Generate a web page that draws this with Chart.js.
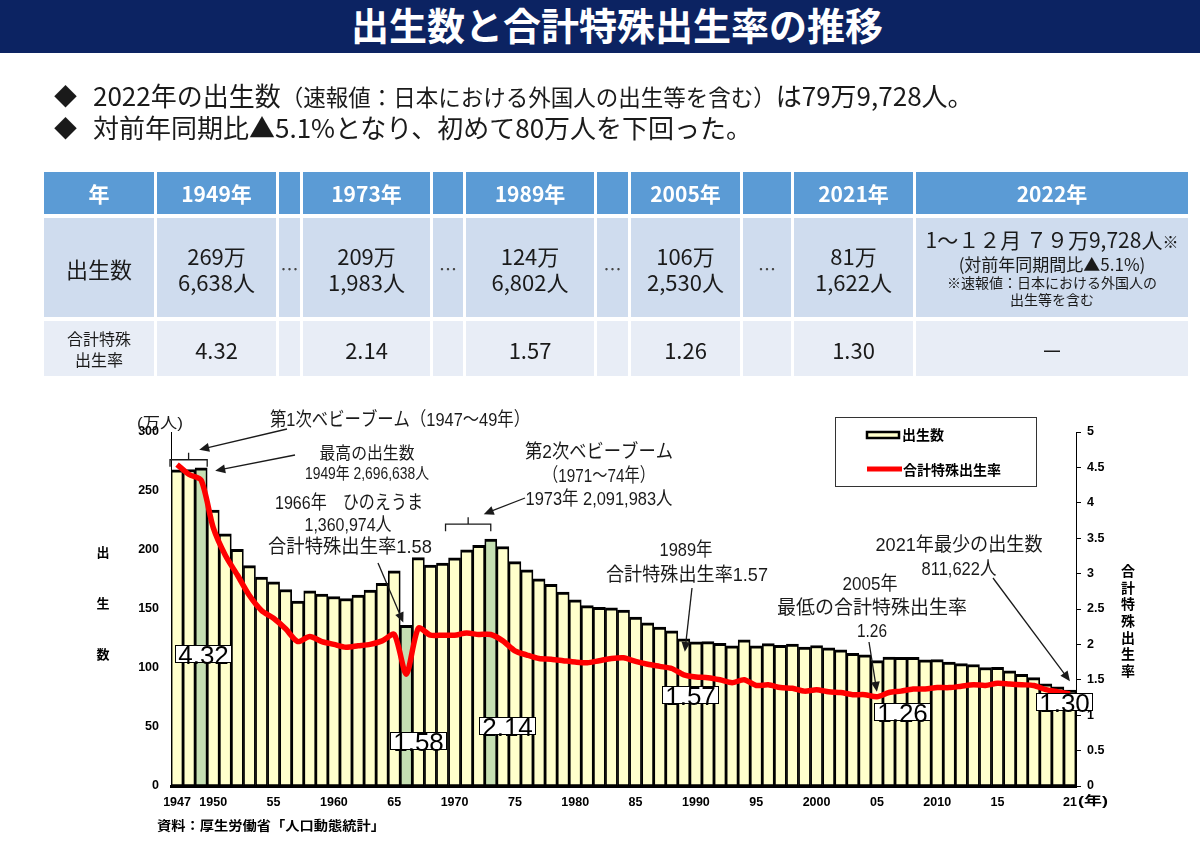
<!DOCTYPE html>
<html lang="ja">
<head>
<meta charset="utf-8">
<title>出生数と合計特殊出生率の推移</title>
<script src="https://cdn.jsdelivr.net/npm/chart.js@4.4.1/dist/chart.umd.min.js"></script>
<style>
html, body { margin:0; padding:0; background:#fff; }
body { width:1200px; height:847px; position:relative; overflow:hidden;
       font-family:'Noto Sans CJK JP','Noto Sans',sans-serif; color:#1a1a1a; }
#chart { position:absolute; left:0; top:0; }
.title { position:absolute; left:0; top:0; width:1200px; height:53px; background:#0c2362;
         color:#fff; font-weight:700; font-size:38px; line-height:48px; text-align:center;
         padding-left:34px; box-sizing:border-box; white-space:nowrap; }
.bullet { position:absolute; left:0; height:32px; font-size:26px; line-height:32px; white-space:nowrap; }
.bullet .dia { position:absolute; left:54px; top:0; font-size:23px; }
.bullet .txt { position:absolute; left:93px; top:0; }
.bullet .sm { font-size:22.5px; }
.tbl { position:absolute; left:44px; top:172px; display:grid;
       grid-template-columns:110px 119px 21px 127px 30px 128px 31px 109px 48px 119px 272px;
       grid-template-rows:42px 99px 55px; column-gap:3px; row-gap:4px; }
.tbl div { display:flex; align-items:center; justify-content:center; text-align:center; }
.tbl .h { background:#5b9bd5; color:#fff; font-weight:700; font-size:21px; }
.tbl .r2 { background:#cfdcee; font-size:22px; line-height:26px; }
.tbl .r3 { background:#e8edf6; font-size:22px; line-height:22px; }
.tbl .gap { color:#444; font-size:18px; }
.tbl .lab3 { font-size:16px; line-height:21px; }
.tbl .y22 { flex-direction:column; line-height:22px; }
.tbl .y22 .a { font-size:21px; line-height:24px; }
.tbl .y22 .b { font-size:17px; line-height:21px; }
.tbl .y22 .c { font-size:14px; line-height:17px; }
</style>
</head>
<body>
<canvas id="chart" width="1200" height="847"></canvas>
<div class="title">出生数と合計特殊出生率の推移</div>
<div class="bullet" style="top:79px"><span class="dia">◆</span><span class="txt">2022年の出生数<span class="sm">（速報値：日本における外国人の出生等を含む）</span>は79万9,728人。</span></div>
<div class="bullet" style="top:111px"><span class="dia">◆</span><span class="txt">対前年同期比▲5.1%となり、初めて80万人を下回った。</span></div>
<div class="tbl" id="tbl"></div>

<script>
// ---- data ----
const years = [1947,1948,1949,1950,1951,1952,1953,1954,1955,1956,1957,1958,1959,
  1960,1961,1962,1963,1964,1965,1966,1967,1968,1969,1970,1971,1972,1973,1974,1975,
  1976,1977,1978,1979,1980,1981,1982,1983,1984,1985,1986,1987,1988,1989,1990,1991,
  1992,1993,1994,1995,1996,1997,1998,1999,2000,2001,2002,2003,2004,2005,2006,2007,
  2008,2009,2010,2011,2012,2013,2014,2015,2016,2017,2018,2019,2020,2021];

// 出生数 (万人)
const births = [267.9,268.2,269.7,233.8,213.8,200.5,186.8,177.0,173.1,166.5,156.7,165.3,162.6,
  160.6,158.9,161.9,166.0,171.7,182.4,136.1,193.6,187.2,189.0,193.4,200.1,203.9,209.2,203.0,190.1,
  183.3,175.5,170.9,164.3,157.7,152.9,151.5,150.9,149.0,143.2,138.3,134.7,131.4,124.7,122.2,122.3,
  120.9,118.8,123.8,118.7,120.7,119.2,120.3,117.8,119.1,117.1,115.4,112.4,111.1,106.3,109.3,109.0,
  109.1,107.0,107.1,105.1,103.7,103.0,100.4,100.6,97.7,94.6,91.8,86.5,84.1,81.2];

// 合計特殊出生率
const tfr = [4.54,4.40,4.32,3.65,3.26,2.98,2.69,2.48,2.37,2.22,2.04,2.11,2.04,
  2.00,1.96,1.98,2.00,2.05,2.14,1.58,2.23,2.13,2.13,2.13,2.16,2.14,2.14,2.05,1.91,
  1.85,1.80,1.79,1.77,1.75,1.74,1.77,1.80,1.81,1.76,1.72,1.69,1.66,1.57,1.54,1.53,
  1.50,1.46,1.50,1.42,1.43,1.39,1.38,1.34,1.36,1.33,1.32,1.29,1.29,1.26,1.32,1.34,
  1.37,1.37,1.39,1.39,1.41,1.43,1.42,1.45,1.44,1.43,1.42,1.36,1.33,1.30];

const highlightYears = [1949, 1966, 1973];
const xTickYears = [1947,1950,1955,1960,1965,1970,1975,1980,1985,1990,1995,2000,2005,2010,2015,2021];
const xTickText  = ['1947','1950','55','1960','65','1970','75','1980','85','1990','95','2000','05','2010','15','21'];

// table
const tblYears  = ['1949年','1973年','1989年','2005年','2021年'];
const tblMan    = ['269万','209万','124万','106万','81万'];
const tblRest   = ['6,638人','1,983人','6,802人','2,530人','1,622人'];
const tblRates  = ['4.32','2.14','1.57','1.26','1.30'];

// ---- table ----
(function buildTable() {
  const t = document.getElementById('tbl');
  const add = (cls, html) => { const d = document.createElement('div'); d.className = cls; d.innerHTML = html; t.appendChild(d); };
  add('h', '年');
  tblYears.forEach((y, i) => { add('h', y); if (i < tblYears.length - 1) add('h', ''); });
  add('h', '2022年');
  add('r2', '出生数');
  tblYears.forEach((y, i) => { add('r2', tblMan[i] + '<br>' + tblRest[i]); if (i < tblYears.length - 1) add('r2 gap', '…'); });
  add('r2 y22', '<span class="a">1～１２月 ７９万9,728人<span style="font-size:16px">※</span></span><span class="b">(対前年同期間比▲5.1%)</span><span class="c">※速報値：日本における外国人の</span><span class="c">出生等を含む</span>');
  add('r3 lab3', '合計特殊<br>出生率');
  tblYears.forEach((y, i) => { add('r3', tblRates[i]); if (i < tblYears.length - 1) add('r3', ''); });
  add('r3', '－');
})();

// ---- chart ----
const FONT = "'Liberation Sans','Noto Sans CJK JP',sans-serif";
const YELLOW = '#ffffcc', GREEN = '#c5dfb2', INK = '#1a1a1a';
Chart.defaults.font.family = FONT;
Chart.defaults.color = '#000';

// helper: text squeezed/stretched to a given width
function fitText(ctx, text, cx, cy, size, w, weight) {
  ctx.save();
  ctx.font = (weight || 'normal') + ' ' + size + 'px ' + FONT;
  const m = ctx.measureText(text).width;
  ctx.translate(cx, cy);
  ctx.scale(w / m, 1);
  ctx.textAlign = 'center';
  ctx.textBaseline = 'middle';
  ctx.fillText(text, 0, 0);
  ctx.restore();
}

function arrow(ctx, x1, y1, x2, y2) {
  const a = Math.atan2(y2 - y1, x2 - x1), L = 10, W = 4.5;
  ctx.beginPath(); ctx.moveTo(x1, y1); ctx.lineTo(x2 - Math.cos(a) * L * 0.8, y2 - Math.sin(a) * L * 0.8); ctx.stroke();
  ctx.beginPath();
  ctx.moveTo(x2, y2);
  ctx.lineTo(x2 - L * Math.cos(a) + W * Math.sin(a), y2 - L * Math.sin(a) - W * Math.cos(a));
  ctx.lineTo(x2 - L * Math.cos(a) - W * Math.sin(a), y2 - L * Math.sin(a) + W * Math.cos(a));
  ctx.closePath(); ctx.fill();
}

const notes = [
  { t:'第1次ベビーブーム（1947～49年）', x:400, y:421, s:19, w:260 },
  { t:'最高の出生数', x:367, y:454, s:17, w:95 },
  { t:'1949年 2,696,638人', x:367, y:475, s:16, w:124 },
  { t:'1966年　ひのえうま', x:349, y:504, s:19, w:148 },
  { t:'1,360,974人', x:348, y:526, s:19, w:87 },
  { t:'合計特殊出生率1.58', x:350, y:548, s:19, w:164 },
  { t:'第2次ベビーブーム', x:599, y:453, s:19, w:148 },
  { t:'（1971～74年）', x:599, y:477, s:19, w:112 },
  { t:'1973年 2,091,983人', x:599, y:500, s:19, w:147 },
  { t:'1989年', x:686, y:551, s:19, w:53 },
  { t:'合計特殊出生率1.57', x:687, y:576, s:19, w:162 },
  { t:'2005年', x:870, y:585, s:19, w:55 },
  { t:'最低の合計特殊出生率', x:872, y:609, s:19, w:190 },
  { t:'1.26', x:872, y:632, s:19, w:30 },
  { t:'2021年最少の出生数', x:959, y:546, s:19, w:167 },
  { t:'811,622人', x:959, y:570, s:19, w:75 }
];

// value boxes for 合計特殊出生率 (box left/top in px, value from tfr)
const rateBoxes = [
  { year:1949, x:175, y:645 }, { year:1966, x:390, y:732 }, { year:1973, x:479, y:717 },
  { year:1989, x:662, y:686 }, { year:2005, x:874, y:703 }, { year:2021, x:1036, y:693 }
];

const notesPlugin = {
  id: 'notes',
  afterDraw(chart) {
    const ctx = chart.ctx, xs = chart.scales.x, yl = chart.scales.y, yr = chart.scales.y1;
    const bw = xs.getPixelForValue(1) - xs.getPixelForValue(0);
    const X = yr2 => xs.getPixelForValue(years.indexOf(yr2));
    const YB = yr2 => yl.getPixelForValue(births[years.indexOf(yr2)]);
    const YR = yr2 => yr.getPixelForValue(tfr[years.indexOf(yr2)]);

    ctx.save();
    ctx.fillStyle = INK; ctx.strokeStyle = INK; ctx.lineWidth = 1.3;

    // brackets over baby booms
    const bracket = (l, r, y) => {
      const c = (l + r) / 2;
      ctx.beginPath();
      ctx.moveTo(l, y + 7); ctx.lineTo(l, y); ctx.lineTo(r, y); ctx.lineTo(r, y + 7);
      ctx.moveTo(c, y); ctx.lineTo(c, y - 7);
      ctx.stroke();
    };
    const b1l = X(1947) - bw / 2 - 1, b1r = X(1949) + bw / 2, b1y = YB(1949) - 8;
    bracket(b1l, b1r, b1y);
    const b2l = X(1970) - bw / 2 - 3, b2r = X(1973), b2y = YB(1973) - 15;
    bracket(b2l, b2r, b2y);

    // arrows
    arrow(ctx, 287, 429, b1r - 8, b1y - 10);
    arrow(ctx, 295, 455, X(1949) + bw / 2 + 8, YB(1949) + 3);
    arrow(ctx, 378, 563, X(1966) - 3, YB(1966) - 3);
    arrow(ctx, 525, 498, b2r - 7, b2y - 10);
    arrow(ctx, 692, 588, X(1989) + 1, YB(1989) + 13);
    arrow(ctx, 869, 642, X(2005), YR(2005) - 5);
    arrow(ctx, 993, 578, X(2021), YB(2021) - 9);

    // annotation texts
    notes.forEach(n => fitText(ctx, n.t, n.x, n.y, n.s, n.w));

    // rate value boxes
    rateBoxes.forEach(b => {
      ctx.fillStyle = '#fff'; ctx.fillRect(b.x, b.y, 57, 18);
      ctx.strokeStyle = '#000'; ctx.lineWidth = 1; ctx.strokeRect(b.x + 0.5, b.y + 0.5, 56, 17);
      ctx.fillStyle = '#000';
      ctx.font = '26px ' + FONT; ctx.textAlign = 'center'; ctx.textBaseline = 'alphabetic';
      ctx.fillText(tfr[years.indexOf(b.year)].toFixed(2), b.x + 28.5, b.y + 18.5);
    });

    // legend
    const ds = chart.data.datasets;
    const barDs = ds.find(d => d.type === 'bar'), lineDs = ds.find(d => d.type === 'line');
    ctx.strokeStyle = '#333'; ctx.lineWidth = 1;
    ctx.strokeRect(835.5, 417.5, 201, 69);
    ctx.fillStyle = YELLOW; ctx.fillRect(867, 432, 32, 6);
    ctx.strokeStyle = '#000'; ctx.lineWidth = 2.5; ctx.strokeRect(867, 432, 32, 6);
    ctx.strokeStyle = lineDs.borderColor; ctx.lineWidth = 5;
    ctx.beginPath(); ctx.moveTo(867, 469); ctx.lineTo(902, 469); ctx.stroke();
    ctx.fillStyle = '#000'; ctx.font = 'bold 14px ' + FONT; ctx.textAlign = 'left'; ctx.textBaseline = 'middle';
    ctx.fillText(barDs.label, 902, 436);
    ctx.fillText(lineDs.label, 903, 471);

    // axis titles and units
    ctx.font = 'bold 13px ' + FONT; ctx.textAlign = 'center';
    ['出', '生', '数'].forEach((c, i) => ctx.fillText(c, 103, 553 + i * 51));
    ctx.font = 'bold 14px ' + FONT;
    '合計特殊出生率'.split('').forEach((c, i) => ctx.fillText(c, 1128, 572 + i * 16.7));
    ctx.fillStyle = INK;
    fitText(ctx, '(万人)', 160, 424, 15, 46);
    ctx.fillStyle = '#000';
    fitText(ctx, '(年)', 1093, 802, 12.5, 30, 'bold');
    fitText(ctx, '資料：厚生労働省「人口動態統計」', 271, 826, 13, 228, 'bold');
    ctx.restore();
  }
};

new Chart(document.getElementById('chart'), {
  type: 'bar',
  data: {
    labels: years,
    datasets: [
      { type:'line', label:'合計特殊出生率', data:tfr, yAxisID:'y1', borderColor:'#ff0000',
        borderWidth:5.5, pointRadius:0, tension:0.25, order:0 },
      { type:'bar', label:'出生数', data:births, yAxisID:'y',
        backgroundColor: years.map(y => highlightYears.includes(y) ? GREEN : YELLOW),
        borderColor:'#000', borderWidth:{ top:3, left:1.75, right:1.75, bottom:2 }, borderSkipped:false,
        categoryPercentage:1, barPercentage:1, order:1 }
    ]
  },
  options: {
    responsive:false, animation:false,
    layout:{ padding:{ top:432, left:0, right:0, bottom:0 } },
    plugins:{ legend:{ display:false }, tooltip:{ enabled:false } },
    scales:{
      x:{
        grid:{ display:false, drawTicks:false },
        border:{ display:true, color:'#000', width:3 },
        ticks:{ autoSkip:false, maxRotation:0, minRotation:0, padding:9, color:'#000',
                font:{ size:12.5, weight:'bold' },
                callback:(v, i) => { const k = xTickYears.indexOf(years[i]); return k >= 0 ? xTickText[k] : ''; } },
        afterFit:s => { s.height = 61; }
      },
      y:{
        position:'left', min:0, max:300,
        grid:{ display:false, drawTicks:false },
        border:{ display:true, color:'#000', width:1 },
        ticks:{ stepSize:50, padding:12, color:'#000', font:{ size:12.5, weight:'bold' } },
        afterFit:s => { s.width = 171; }
      },
      y1:{
        position:'right', min:0, max:5,
        grid:{ drawOnChartArea:false, drawTicks:true, tickLength:5, color:'#000' },
        border:{ display:true, color:'#000', width:1 },
        ticks:{ stepSize:0.5, padding:6, color:'#000', font:{ size:12.5, weight:'bold' }, callback:v => String(v) },
        afterFit:s => { s.width = 124; }
      }
    }
  },
  plugins:[notesPlugin]
});
</script>
</body>
</html>
